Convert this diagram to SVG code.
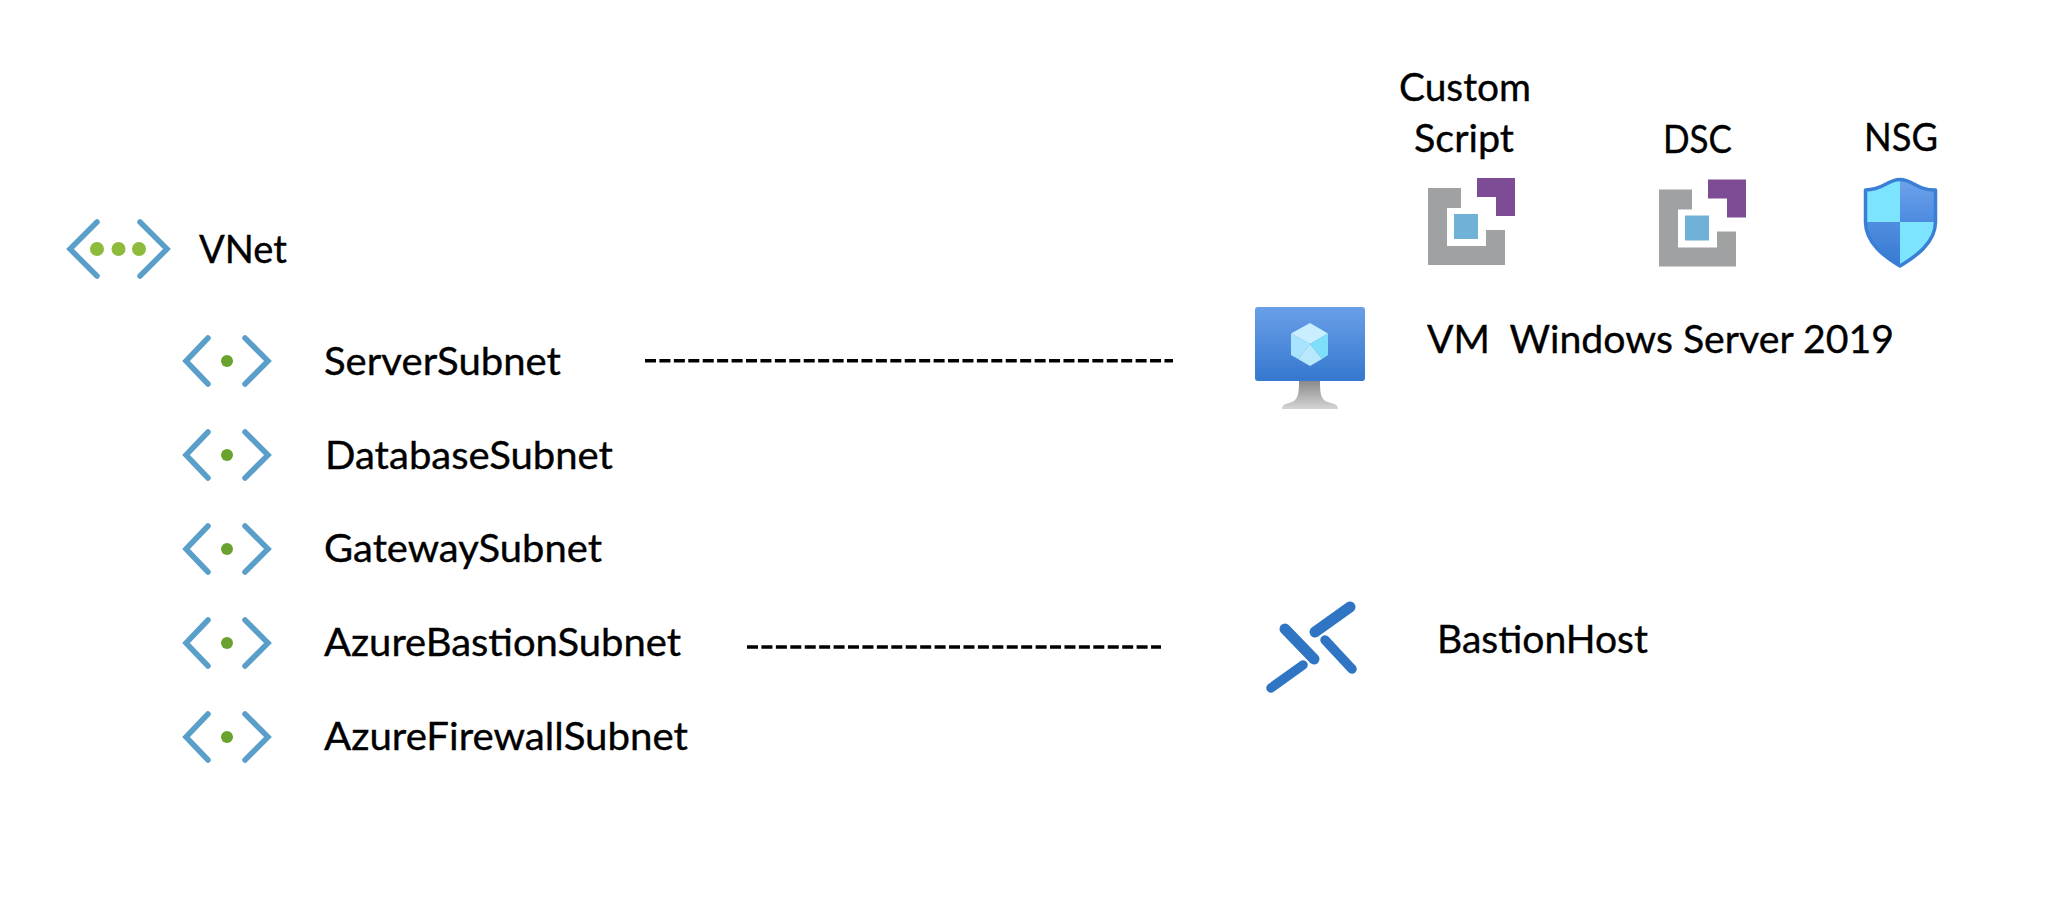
<svg xmlns="http://www.w3.org/2000/svg" width="2070" height="910" viewBox="0 0 2070 910">
<style>
text{font-family:"Lato","Carlito","Open Sans",sans-serif;font-size:38.500px;fill:#000;stroke:#000;stroke-width:.35;white-space:pre}
.chev{fill:none;stroke:#5a9fc9;stroke-width:5.500;stroke-linecap:round;stroke-linejoin:miter}
.dot1{fill:#8fbb3c}.dot2{fill:#6aa22f}
.gray{fill:#a0a1a3}.pur{fill:#7d4c94}.blu{fill:#70b1d7}
.dash{stroke:#000;stroke-width:3.500;stroke-dasharray:11 3.43;fill:none}
.bas{stroke:#2f75c4;fill:none;stroke-linecap:round}
</style>
<defs>
<linearGradient id="scr" x1="0" y1="0" x2="0" y2="1"><stop offset="0" stop-color="#6a9fe8"/><stop offset="1" stop-color="#3478cf"/></linearGradient>
<linearGradient id="std" x1="0" y1="0" x2="0" y2="1"><stop offset="0" stop-color="#8a8a8a"/><stop offset="1" stop-color="#d4d4d4"/></linearGradient>
<linearGradient id="sq1" x1="0" y1="0" x2="0" y2="1"><stop offset="0" stop-color="#6ea2ea"/><stop offset="1" stop-color="#4c8be0"/></linearGradient>
<linearGradient id="sq2" x1="0" y1="0" x2="0" y2="1"><stop offset="0" stop-color="#4f8ee0"/><stop offset="1" stop-color="#387ad3"/></linearGradient>
<g id="subnet">
<path class="chev" d="M208 338L186 361L208 384M245 338L268 361L245 384"/>
<circle class="dot2" cx="227" cy="361" r="6"/>
</g>
<g id="ext">
<path class="gray" d="M0 0H33V20H19V58H58V42H77V77H0Z"/>
<path class="pur" d="M49 -10H87V28H68V9H49Z"/>
<rect class="blu" x="26" y="26" width="24" height="25"/>
</g>
</defs>
<g id="vnet">
<path class="chev" d="M97 222L70 249L97 276M140 222L167 249L140 276"/>
<circle class="dot1" cx="97" cy="249" r="7"/><circle class="dot1" cx="118.500" cy="249" r="7"/><circle class="dot1" cx="139" cy="249" r="7"/>
<text x="199" y="263" textLength="88" lengthAdjust="spacingAndGlyphs">VNet</text>
</g>
<g id="server-subnet"><use href="#subnet"/><text x="324" y="375" textLength="237" lengthAdjust="spacingAndGlyphs">ServerSubnet</text></g>
<g id="database-subnet"><use href="#subnet" y="94"/><text x="325" y="469" textLength="288" lengthAdjust="spacingAndGlyphs">DatabaseSubnet</text></g>
<g id="gateway-subnet"><use href="#subnet" y="188"/><text x="324" y="562" textLength="278" lengthAdjust="spacingAndGlyphs">GatewaySubnet</text></g>
<g id="bastion-subnet"><use href="#subnet" y="282"/><text x="324" y="656" textLength="357" lengthAdjust="spacingAndGlyphs">AzureBastionSubnet</text></g>
<g id="firewall-subnet"><use href="#subnet" y="376"/><text x="324" y="750" textLength="364" lengthAdjust="spacingAndGlyphs">AzureFirewallSubnet</text></g>
<g id="connectors">
<path class="dash" d="M645 360.700H1173"/>
<path class="dash" d="M747 647H1161"/>
</g>
<g id="custom-script">
<text x="1399" y="101" textLength="132" lengthAdjust="spacingAndGlyphs">Custom</text>
<text x="1414" y="152" textLength="100" lengthAdjust="spacingAndGlyphs">Script</text>
<use href="#ext" x="1428" y="188"/>
</g>
<g id="dsc">
<text x="1663" y="153" textLength="69" lengthAdjust="spacingAndGlyphs">DSC</text>
<use href="#ext" x="1659" y="189.500"/>
</g>
<g id="nsg">
<text x="1864" y="151" textLength="74" lengthAdjust="spacingAndGlyphs">NSG</text>
<path d="M1900 180C1887 180 1884 191 1866 191V222C1866 243 1885 256 1900 265Z" fill="#7de4ff"/>
<path d="M1900 180C1913 180 1916 191 1935 191V222H1900Z" fill="url(#sq1)"/>
<path d="M1866 222H1900V265C1885 256 1866 243 1866 222Z" fill="url(#sq2)"/>
<path d="M1900 222H1935C1935 243 1915 256 1900 265Z" fill="#7de4ff"/>
<path d="M1900 179.500C1887 179.500 1884 190 1865.500 190V222C1865.500 243 1885 257 1900 266C1915 257 1935.500 243 1935.500 222V190C1916 190 1913 179.500 1900 179.500Z" fill="none" stroke="#3a7fd5" stroke-width="3.500" stroke-linejoin="round"/>
</g>
<g id="vm">
<rect x="1255" y="307" width="110" height="74" rx="3" fill="url(#scr)"/>
<path d="M1299 381H1320C1320 395 1321 401 1331 403C1336 404 1338 406 1338 409H1282C1282 406 1284 404 1289 403C1298 401 1299 395 1299 381Z" fill="url(#std)"/>
<path d="M1310 323L1328 333.500L1310 344L1291 333.500Z" fill="#c8eeff"/>
<path d="M1291 333.500L1310 344V344L1298 359L1291 355Z" fill="#a8e4fd"/>
<path d="M1328 333.500V355L1322 359L1310 344Z" fill="#7fdffb"/>
<path d="M1310 344L1322 359L1310 366L1298 359Z" fill="#b8e8fb"/>
<text x="1427" y="353" textLength="467" lengthAdjust="spacingAndGlyphs">VM  Windows Server 2019</text>
</g>
<g id="bastion">
<path class="bas" stroke-width="11" d="M1315 632L1350 607"/>
<path class="bas" stroke-width="11" d="M1285 629L1314 659"/>
<path class="bas" stroke-width="9.500" d="M1325 640L1352 669"/>
<path class="bas" stroke-width="9.500" d="M1303 665L1271 688"/>
<text x="1437" y="653" textLength="211" lengthAdjust="spacingAndGlyphs">BastionHost</text>
</g>
</svg>
